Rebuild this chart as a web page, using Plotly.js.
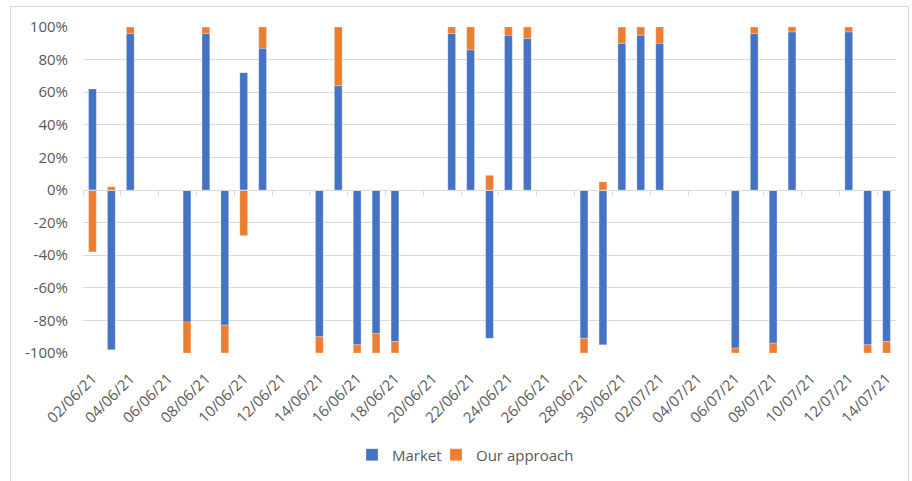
<!DOCTYPE html>
<html>
<head>
<meta charset="utf-8">
<script src="https://cdn.plot.ly/plotly-3.0.1.min.js"></script>
<style>
  html, body { margin: 0; padding: 0; background: #fff; }
  #wrap { position: relative; width: 912px; height: 481px; }
  #chart { position: absolute; left: 0; top: 0; width: 912px; height: 481px; }
  #frame { position: absolute; left: 10px; top: 6px; width: 899px; height: 476px; border: 1px solid #d9d9d9; box-sizing: border-box; pointer-events: none; }
</style>
</head>
<body>
<div id="wrap">
  <div id="chart"></div>
  <div id="frame"></div>
</div>
<script>
const dates = [
  "02/06/21","03/06/21","04/06/21","05/06/21","06/06/21","07/06/21","08/06/21","09/06/21","10/06/21","11/06/21",
  "12/06/21","13/06/21","14/06/21","15/06/21","16/06/21","17/06/21","18/06/21","19/06/21","20/06/21","21/06/21",
  "22/06/21","23/06/21","24/06/21","25/06/21","26/06/21","27/06/21","28/06/21","29/06/21","30/06/21","01/07/21",
  "02/07/21","03/07/21","04/07/21","05/07/21","06/07/21","07/07/21","08/07/21","09/07/21","10/07/21","11/07/21",
  "12/07/21","13/07/21","14/07/21"
];
const market = [
  0.62, -0.98, 0.96, null, null, -0.81, 0.96, -0.83, 0.72, 0.87,
  null, null, -0.90, 0.64, -0.95, -0.88, -0.93, null, null, 0.96,
  0.86, -0.91, 0.95, 0.93, null, null, -0.91, -0.95, 0.90, 0.95,
  0.90, null, null, null, -0.97, 0.96, -0.94, 0.97, null, null,
  0.97, -0.95, -0.93
];
const ourApproach = [
  -0.38, 0.02, 0.04, null, null, -0.19, 0.04, -0.17, -0.28, 0.13,
  null, null, -0.10, 0.36, -0.05, -0.12, -0.07, null, null, 0.04,
  0.14, 0.09, 0.05, 0.07, null, null, -0.09, 0.05, 0.10, 0.05,
  0.10, null, null, null, -0.03, 0.04, -0.06, 0.03, null, null,
  0.03, -0.05, -0.07
];
const yTickVals = [-1, -0.8, -0.6, -0.4, -0.2, 0, 0.2, 0.4, 0.6, 0.8, 1];
const yTickText = ["-100%", "-80%", "-60%", "-40%", "-20%", "0%", "20%", "40%", "60%", "80%", "100%"];

const grey = "#595959";
const lineGrey = "#d9d9d9";
const font = "Open Sans, DejaVu Sans, sans-serif";
const fs = 15;
const xRange = [-0.5, dates.length - 0.5];

const traces = [
  { type: "bar", name: "Market", x: dates, y: market, legend: "legend",
    marker: { color: "#4472C4", line: { color: "rgba(255,255,255,0.5)", width: 0.5 } } },
  { type: "bar", name: "Our approach", x: dates, y: ourApproach, legend: "legend2",
    marker: { color: "#ED7D31", line: { color: "rgba(255,255,255,0.5)", width: 0.5 } } },
  // empty helper trace so the zero-line category axis (ticks between days) is drawn
  { type: "scatter", mode: "none", x: dates, y: dates.map(() => null), xaxis: "x2", yaxis: "y",
    showlegend: false, hoverinfo: "skip" }
];

const legendCommon = { orientation: "h", xanchor: "left", y: -0.3126, yanchor: "middle",
  itemwidth: 30, font: { family: font, size: fs, color: grey }, bgcolor: "rgba(0,0,0,0)" };

const layout = {
  width: 912, height: 481,
  margin: { l: 83, r: 16, t: 27, b: 128, autoexpand: false },
  paper_bgcolor: "rgba(0,0,0,0)",
  plot_bgcolor: "#fff",
  barmode: "relative",
  bargap: 0.59,
  font: { family: font, size: fs, color: grey },
  showlegend: true,
  legend: Object.assign({}, legendCommon, { x: 0.3309 }),
  legend2: Object.assign({}, legendCommon, { x: 0.4342 }),
  xaxis: {
    type: "category", categoryorder: "array", categoryarray: dates, range: xRange,
    tickmode: "linear", tick0: 0, dtick: 2, tickangle: -45,
    showline: false, showgrid: false, zeroline: false, ticks: "",
    ticklabelstandoff: 13,
    tickfont: { family: font, size: fs, color: grey }
  },
  xaxis2: {
    type: "category", categoryorder: "array", categoryarray: dates, range: xRange,
    overlaying: "x", anchor: "free", position: 0.5,
    tickmode: "linear", tick0: 0, dtick: 2, tickson: "boundaries",
    showline: true, linecolor: lineGrey, linewidth: 1,
    ticks: "outside", ticklen: 5, tickcolor: lineGrey, tickwidth: 1,
    showticklabels: false, showgrid: false, zeroline: false
  },
  yaxis: {
    range: [-1, 1], tickvals: yTickVals, ticktext: yTickText,
    showgrid: true, gridcolor: lineGrey, gridwidth: 1,
    zeroline: false, showline: false, ticks: "",
    ticklabelstandoff: 14,
    tickfont: { family: font, size: fs, color: grey }
  }
};

Plotly.newPlot("chart", traces, layout, { displayModeBar: false, staticPlot: true });
</script>
</body>
</html>
